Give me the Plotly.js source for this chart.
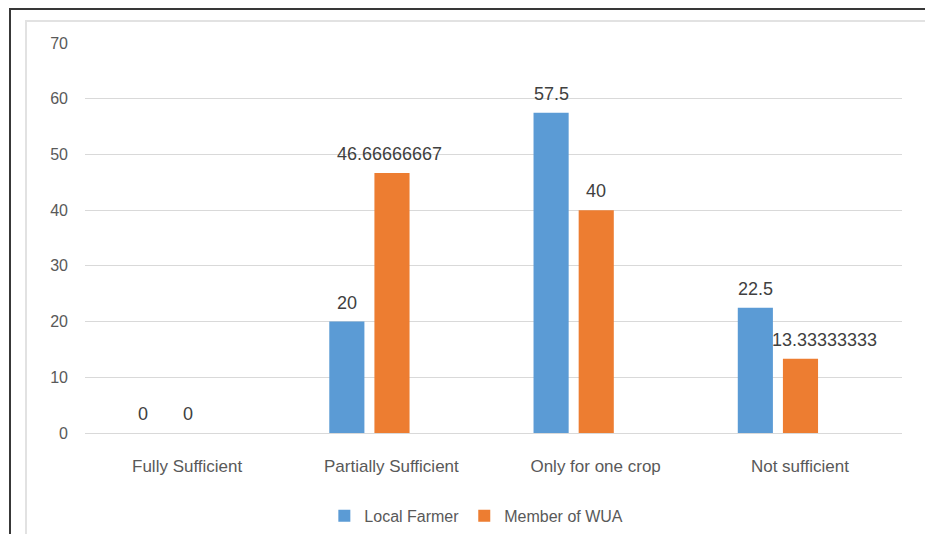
<!DOCTYPE html>
<html>
<head>
<meta charset="utf-8">
<script src="https://cdn.plot.ly/plotly-3.0.1.min.js"></script>
<style>
  html, body { margin: 0; padding: 0; background: #ffffff; }
  #wrap { position: relative; width: 925px; height: 534px; overflow: hidden; }
  #chart { position: absolute; left: 0; top: 0; width: 925px; height: 534px; }
  .frame { position: absolute; pointer-events: none; }
  #outer { left: 9px; top: 8px; width: 1000px; height: 1000px; border-left: 2px solid #383838; border-top: 2px solid #383838; }
  #inner { left: 25px; top: 20px; width: 1000px; height: 1000px; border-left: 2px solid #e2e2e2; border-top: 2px solid #e2e2e2; }
</style>
</head>
<body>
<div id="wrap">
  <div id="chart"></div>
  <div id="outer" class="frame"></div>
  <div id="inner" class="frame"></div>
</div>
<script>
// Water sufficiency responses by respondent group (%)
const categories = ["Fully Sufficient", "Partially Sufficient", "Only for one crop", "Not sufficient"];
const localFarmer = [0, 20, 57.5, 22.5];
const memberWUA = [0, 46.66666667, 40, 13.33333333];
const seriesNames = ["Local Farmer", "Member of WUA"];
const yTicks = [0, 10, 20, 30, 40, 50, 60, 70];

const BLUE = "#5B9BD5";
const ORANGE = "#ED7D31";
const BAR_W = 0.172;
const OFFSETS = [-0.304, -0.083];

const series = [
  { name: seriesNames[0], values: localFarmer, color: BLUE, offset: OFFSETS[0] },
  { name: seriesNames[1], values: memberWUA, color: ORANGE, offset: OFFSETS[1] }
];

const traces = series.map(s => ({
  type: "bar",
  name: s.name,
  x: categories,
  y: s.values,
  width: BAR_W,
  offset: s.offset,
  marker: { color: s.color, line: { width: 0 } },
  hoverinfo: "x+y+name"
}));

// value labels above each bar; the small WUA value is nudged right so it clears the neighbouring bar
const nudge = { "1-3": 24, "1-1": -2 };
const annotations = [];
series.forEach((s, si) => {
  s.values.forEach((v, ci) => {
    annotations.push({
      x: ci + s.offset + BAR_W / 2,
      y: v,
      xref: "x",
      yref: "y",
      text: String(v),
      showarrow: false,
      yanchor: "middle",
      xanchor: "center",
      yshift: 19,
      xshift: nudge[si + "-" + ci] || 0,
      font: { family: "Liberation Sans, Arial, sans-serif", size: 18, color: "#404040" }
    });
  });
});

const layout = {
  width: 925,
  height: 534,
  margin: { l: 85, r: 23, t: 43, b: 101 },
  paper_bgcolor: "#ffffff",
  plot_bgcolor: "#ffffff",
  barmode: "overlay",
  showlegend: true,
  legend: {
    orientation: "h",
    x: 0.479,
    xanchor: "center",
    yref: "container",
    y: 0.034,
    yanchor: "middle",
    font: { family: "Liberation Sans, Arial, sans-serif", size: 16, color: "#595959" },
    itemwidth: 30,
    traceorder: "normal"
  },
  xaxis: {
    type: "category",
    categoryorder: "array",
    categoryarray: categories,
    range: [-0.5, 3.5],
    showgrid: false,
    showline: true,
    linecolor: "#d9d9d9",
    linewidth: 1,
    ticks: "",
    ticklabelstandoff: 18,
    tickfont: { family: "Liberation Sans, Arial, sans-serif", size: 17, color: "#595959" },
    fixedrange: true,
    automargin: false
  },
  yaxis: {
    range: [0, 70],
    tickvals: yTicks,
    ticktext: yTicks.map(String),
    showgrid: true,
    gridcolor: "#d9d9d9",
    gridwidth: 1,
    zeroline: false,
    showline: false,
    ticks: "",
    ticklabelstandoff: 16,
    tickfont: { family: "Liberation Sans, Arial, sans-serif", size: 16, color: "#595959" },
    fixedrange: true,
    automargin: false
  },
  annotations: annotations
};

Plotly.newPlot("chart", traces, layout, { displayModeBar: false, staticPlot: true });
</script>
</body>
</html>
